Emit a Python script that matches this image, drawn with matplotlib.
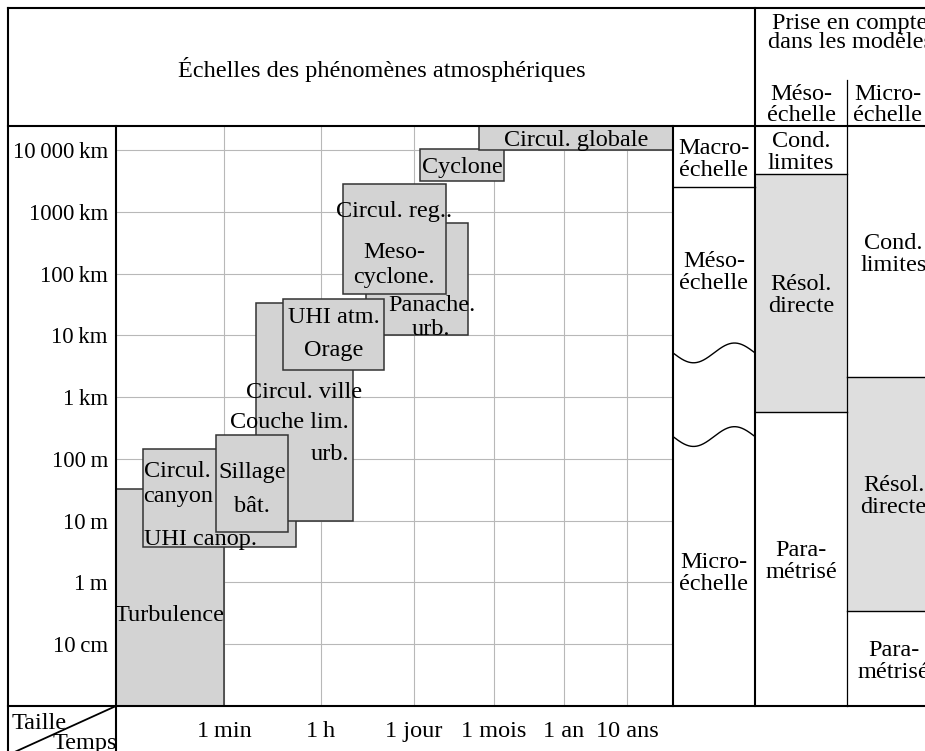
import numpy as np
import matplotlib
matplotlib.use('Agg')
import matplotlib.pyplot as plt
from matplotlib.patches import Rectangle
from matplotlib.ticker import NullLocator

plt.rcParams['font.family'] = ['Liberation Serif', 'DejaVu Serif']
plt.rcParams['font.size'] = 17.5

TS = '\u2009'

# ---------------- data ----------------
# Atmospheric phenomena: time range (s) and size range (m), in drawing order
PHEN_T_START = [1.0, 2.8, 230, 44, 17000, 720, 7600, 111000, 1.4e6]
PHEN_T_END = [60, 1250, 10700, 890, 855000, 31000, 336000, 3.8e6, 1.8e9]
PHEN_S_MIN = [0.01, 3.8, 10, 6.5, 10000, 2700, 47000, 3.15e6, 1.0e7]
PHEN_S_MAX = [32, 142, 33600, 240, 660000, 39000, 2.8e6, 1.04e7, 2.45e7]
PHEN_LABELS = [
    ['Turbulence'],
    ['Circul.', 'canyon', 'UHI canop.'],
    ['Circul. ville', 'Couche lim.', 'urb.'],
    ['Sillage', 'bât.'],
    ['Panache.', 'urb.'],
    ['UHI atm.', 'Orage'],
    ['Circul. reg..', 'Meso-', 'cyclone.'],
    ['Cyclone'],
    ['Circul. globale'],
]

SIZE_TICKS_M = [1e7, 1e6, 1e5, 1e4, 1e3, 1e2, 10, 1, 0.1]
SIZE_TICK_LABELS = [f'10{TS}000{TS}km', f'1000{TS}km', f'100{TS}km', f'10{TS}km',
                    f'1{TS}km', f'100{TS}m', f'10{TS}m', f'1{TS}m', f'10{TS}cm']
TIME_TICKS_S = [60, 3600, 86400, 2.63e6, 3.156e7, 3.156e8]
TIME_TICK_LABELS = [f'1{TS}min', f'1{TS}h', '1 jour', '1 mois', '1 an', '10 ans']
TIME_RANGE_S = (1.0, 1.8e9)
SIZE_RANGE_M = (0.01, 2.45e7)

# Right-hand columns
SCALE_NAMES = ['Macro-\néchelle', 'Méso-\néchelle', 'Micro-\néchelle']
SCALE_MACRO_MESO_M = 2.5e6
SCALE_BREAKS_M = [5.2e3, 230]
MESO_MODEL_NAMES = ['Cond.\nlimites', 'Résol.\ndirecte', 'Para-\nmétrisé']
MESO_MODEL_BOUNDS_M = [4.1e6, 580]
MICRO_MODEL_NAMES = ['Cond.\nlimites', 'Résol.\ndirecte', 'Para-\nmétrisé']
MICRO_MODEL_BOUNDS_M = [2.1e3, 0.34]

TITLE = 'Échelles des phénomènes atmosphériques'
MODEL_HEADER = ['Prise en compte', 'dans les modèles']
MODEL_SUBHEADERS = ['Méso-\néchelle', 'Micro-\néchelle']

# ---------------- layout ----------------
W, H = 925, 751
fig = plt.figure(figsize=(W / 100, H / 100), dpi=100)


def rect(x0, y0, x1, y1):
    return [x0 / W, 1 - y1 / H, (x1 - x0) / W, (y1 - y0) / H]


CH_L, CH_T, CH_R, CH_B = 116, 126, 673, 706
TICK_POS_PX = [108, 205, 298, 378, 448, 511]   # tick positions along the time axis
LOG_ANCH = np.log10([TIME_RANGE_S[0]] + TIME_TICKS_S + [TIME_RANGE_S[1]])
FRAC_ANCH = np.array([0] + TICK_POS_PX + [CH_R - CH_L]) / (CH_R - CH_L)


def fwd(t):
    t = np.asarray(t, dtype=float)
    with np.errstate(divide='ignore', invalid='ignore'):
        lt = np.where(t > 0, np.log10(np.where(t > 0, t, 1.0)), -1e9)
    return np.interp(lt, LOG_ANCH, FRAC_ANCH, left=-1.0, right=2.0)


def inv(p):
    p = np.asarray(p, dtype=float)
    return 10 ** np.interp(p, FRAC_ANCH, LOG_ANCH)


ax = fig.add_axes(rect(CH_L, CH_T, CH_R, CH_B))
ax.set_xscale('function', functions=(fwd, inv))
ax.set_yscale('log')
ax.set_xlim(*TIME_RANGE_S)
ax.set_ylim(*SIZE_RANGE_M)
ax.set_xticks(TIME_TICKS_S, TIME_TICK_LABELS)
ax.set_yticks(SIZE_TICKS_M, SIZE_TICK_LABELS)
ax.xaxis.set_minor_locator(NullLocator())
ax.yaxis.set_minor_locator(NullLocator())
ax.tick_params(axis='y', length=0, pad=5.8, labelsize=16.5)
ax.tick_params(axis='x', length=0, pad=11)
ax.grid(True, color='#b8b8b8', lw=0.8)
ax.set_axisbelow(True)
for s in ax.spines.values():
    s.set_visible(False)

for i in range(len(PHEN_T_START)):
    t0, t1 = PHEN_T_START[i], PHEN_T_END[i]
    s0, s1 = PHEN_S_MIN[i], PHEN_S_MAX[i]
    ax.add_patch(Rectangle((t0, s0), t1 - t0, s1 - s0, facecolor='#d3d3d3',
                           edgecolor='#333333', lw=1.1, zorder=2 + i))

# label offsets (pixels from box centre): (dx, dy, ha)
LABEL_OFFSETS = [
    [(0, -15, 'center')],
    [(-76, 29.5, 'left'), (-76, 4.5, 'left'), (-76, -38.5, 'left')],
    [(0, 22, 'center'), (44.5, -8, 'right'), (44.5, -40, 'right')],
    [(0, 13.5, 'center'), (0, -20.5, 'center')],
    [(14.5, -24, 'center'), (13.5, -48, 'center')],
    [(0, 20, 'center'), (0, -13, 'center')],
    [(0, 30, 'center'), (0, -11, 'center'), (0, -36, 'center')],
    [(0, 0, 'center')],
    [(0, 0, 'center')],
]

fig.canvas.draw()
for i in range(len(PHEN_T_START)):
    pts = ax.transData.transform([[PHEN_T_START[i], PHEN_S_MIN[i]],
                                  [min(PHEN_T_END[i], TIME_RANGE_S[1]),
                                   min(PHEN_S_MAX[i], SIZE_RANGE_M[1])]])
    cx, cy = pts.mean(axis=0)
    for txt, (dx, dy, ha) in zip(PHEN_LABELS[i], LABEL_OFFSETS[i]):
        ax.annotate(txt, xy=(cx, cy), xycoords='figure pixels', xytext=(dx, dy),
                    textcoords='offset pixels', ha=ha, va='center_baseline',
                    zorder=30, annotation_clip=False)

# ---------------- right columns ----------------
C0, C1, C2, C3 = 673, 755, 847, 940
axr = fig.add_axes(rect(C0, CH_T, C3, CH_B))
axr.set_yscale('log')
axr.set_ylim(*SIZE_RANGE_M)
axr.set_xlim(C0, C3)
axr.axis('off')
axr.patch.set_visible(False)

LINE_GAP = 11  # half distance between two text lines (px)


def two_lines(a, x, y, text):
    l1, l2 = text.split('\n')
    a.annotate(l1, xy=(x, y), xytext=(0, LINE_GAP), textcoords='offset pixels',
               ha='center', va='center_baseline', annotation_clip=False)
    a.annotate(l2, xy=(x, y), xytext=(0, -LINE_GAP), textcoords='offset pixels',
               ha='center', va='center_baseline', annotation_clip=False)


def gmean(a, b):
    return 10 ** ((np.log10(a) + np.log10(b)) / 2)


top, bot = SIZE_RANGE_M[1], SIZE_RANGE_M[0]
# scale classes
axr.plot([C0, C1], [SCALE_MACRO_MESO_M] * 2, color='black', lw=1.0)
u = np.linspace(0, 1, 200)
for b in SCALE_BREAKS_M:
    axr.plot(C0 + (C1 - C0) * u, 10 ** (np.log10(b) - 0.16 * np.sin(2 * np.pi * u)),
             color='black', lw=1.0)
sx = (C0 + C1) / 2
two_lines(axr, sx, gmean(SCALE_MACRO_MESO_M, top), SCALE_NAMES[0])
two_lines(axr, sx, gmean(SCALE_BREAKS_M[0], SCALE_MACRO_MESO_M), SCALE_NAMES[1])
two_lines(axr, sx, gmean(bot, SCALE_BREAKS_M[1]), SCALE_NAMES[2])

# meso model column
axr.fill_between([C1, C2], MESO_MODEL_BOUNDS_M[1], MESO_MODEL_BOUNDS_M[0],
                 color='#dedede', lw=0)
for b in MESO_MODEL_BOUNDS_M:
    axr.plot([C1, C2], [b, b], color='black', lw=1.0)
mx = (C1 + C2) / 2
two_lines(axr, mx, gmean(MESO_MODEL_BOUNDS_M[0], top), MESO_MODEL_NAMES[0])
two_lines(axr, mx, gmean(*MESO_MODEL_BOUNDS_M), MESO_MODEL_NAMES[1])
two_lines(axr, mx, gmean(bot, MESO_MODEL_BOUNDS_M[1]), MESO_MODEL_NAMES[2])

# micro model column
axr.fill_between([C2, C3], MICRO_MODEL_BOUNDS_M[1], MICRO_MODEL_BOUNDS_M[0],
                 color='#dedede', lw=0)
for b in MICRO_MODEL_BOUNDS_M:
    axr.plot([C2, C3], [b, b], color='black', lw=1.0)
ux = (C2 + C3) / 2
two_lines(axr, ux, gmean(MICRO_MODEL_BOUNDS_M[0], top), MICRO_MODEL_NAMES[0])
two_lines(axr, ux, gmean(*MICRO_MODEL_BOUNDS_M), MICRO_MODEL_NAMES[1])
two_lines(axr, ux, gmean(bot, MICRO_MODEL_BOUNDS_M[1]), MICRO_MODEL_NAMES[2])

# ---------------- frame / table lines ----------------
axf = fig.add_axes([0, 0, 1, 1], zorder=10)
axf.set_xlim(0, W)
axf.set_ylim(H, 0)
axf.axis('off')
axf.patch.set_visible(False)
THICK = 1.5
for (x0, y0, x1, y1) in [(8, 8, 8, 760), (8, 8, 930, 8), (8, CH_T, 930, CH_T),
                         (8, CH_B, 930, CH_B), (CH_L, CH_T, CH_L, 760),
                         (CH_R, CH_T, CH_R, CH_B), (C1, 8, C1, CH_B)]:
    axf.plot([x0, x1], [y0, y1], color='black', lw=THICK, solid_capstyle='projecting')
axf.plot([C2, C2], [80, CH_B], color='black', lw=0.9)
axf.plot([CH_L, 8], [CH_B, 755], color='black', lw=1.3)

axf.text((8 + C1) / 2, 67, TITLE, ha='center', va='center_baseline')
axf.text(850, 21, MODEL_HEADER[0], ha='center', va='center_baseline')
axf.text(850, 40, MODEL_HEADER[1], ha='center', va='center_baseline')
for xc, txt in zip([mx, ux - 6], MODEL_SUBHEADERS):
    l1, l2 = txt.split('\n')
    axf.text(xc, 92, l1, ha='center', va='center_baseline')
    axf.text(xc, 113, l2, ha='center', va='center_baseline')
axf.text(12, 721, 'Taille', ha='left', va='center_baseline')
axf.text(117, 741, 'Temps', ha='right', va='center_baseline')

fig.savefig('out.png', dpi=100)
